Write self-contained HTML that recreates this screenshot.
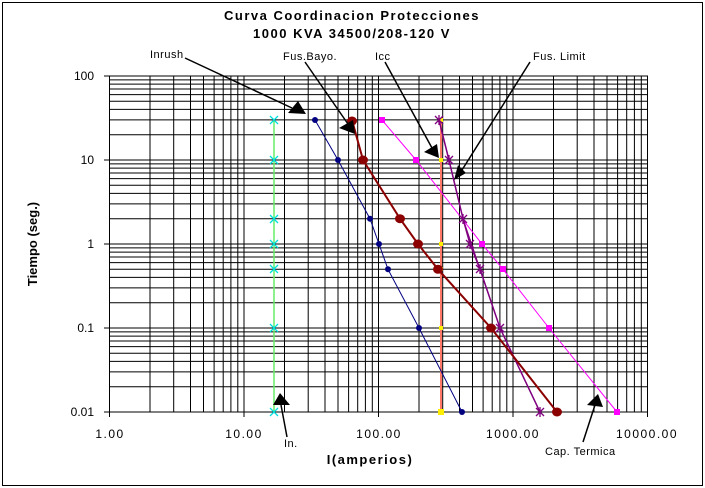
<!DOCTYPE html>
<html><head><meta charset="utf-8"><style>
body{margin:0;background:#fff}
svg{display:block;font-family:"Liberation Sans",Arial,sans-serif}
</style></head><body>
<svg width="705" height="488" viewBox="0 0 705 488">
<rect x="2.5" y="2.5" width="700" height="483" fill="none" stroke="#000" stroke-width="1"/>
<text x="352" y="20" font-size="13" font-weight="bold" text-anchor="middle" letter-spacing="1.5">Curva Coordinacion Protecciones</text>
<text x="352" y="38" font-size="13" font-weight="bold" text-anchor="middle" letter-spacing="1.5">1000 KVA 34500/208-120 V</text>
<g stroke="#000" stroke-width="1" fill="none">
<rect x="109.5" y="76" width="538" height="336"/>
<path d="M150 76V412M173.7 76V412M190.5 76V412M203.5 76V412M214.1 76V412M223.2 76V412M230.9 76V412M237.8 76V412M244 76V412M284.5 76V412M308.2 76V412M325 76V412M338 76V412M348.6 76V412M357.7 76V412M365.4 76V412M372.3 76V412M378.5 76V412M419 76V412M442.7 76V412M459.5 76V412M472.5 76V412M483.1 76V412M492.2 76V412M499.9 76V412M506.8 76V412M513 76V412M553.5 76V412M577.2 76V412M594 76V412M607 76V412M617.6 76V412M626.7 76V412M634.4 76V412M641.3 76V412"/>
<path d="M109.5 160H647.5M109.5 134.7H647.5M109.5 119.9H647.5M109.5 109.4H647.5M109.5 101.3H647.5M109.5 94.6H647.5M109.5 89H647.5M109.5 84.1H647.5M109.5 79.9H647.5
M109.5 244H647.5M109.5 218.7H647.5M109.5 203.9H647.5M109.5 193.4H647.5M109.5 185.3H647.5M109.5 178.6H647.5M109.5 173H647.5M109.5 168.1H647.5M109.5 163.9H647.5
M109.5 328H647.5M109.5 302.7H647.5M109.5 287.9H647.5M109.5 277.4H647.5M109.5 269.3H647.5M109.5 262.6H647.5M109.5 257H647.5M109.5 252.1H647.5M109.5 247.9H647.5
M109.5 386.7H647.5M109.5 371.9H647.5M109.5 361.4H647.5M109.5 353.3H647.5M109.5 346.6H647.5M109.5 341H647.5M109.5 336.1H647.5M109.5 331.9H647.5"/>
<path d="M104 76H109.5M104 160H109.5M104 244H109.5M104 328H109.5M104 412H109.5M109.5 412V417M244 412V417M378.5 412V417M513 412V417M647.5 412V417"/>
</g>
<g font-size="12" text-anchor="end">
<text x="94" y="80">100</text><text x="94" y="164">10</text><text x="94" y="248">1</text><text x="94" y="332">0.1</text><text x="94" y="416">0.01</text>
</g>
<g font-size="12" text-anchor="middle" letter-spacing="1.5">
<text x="110" y="438">1.00</text><text x="244" y="438">10.00</text><text x="379" y="438">100.00</text><text x="513" y="438">1000.00</text><text x="647" y="438">10000.00</text>
</g>
<text x="370" y="464" font-size="13" font-weight="bold" text-anchor="middle" letter-spacing="1.5">I(amperios)</text>
<text transform="translate(37,244) rotate(-90)" font-size="13" font-weight="bold" text-anchor="middle">Tiempo (seg.)</text>
<!-- In -->
<line x1="274" y1="120" x2="274" y2="412" stroke="#66ee66" stroke-width="1.5"/>
<g stroke="#00dddd" stroke-width="1.3">
<path d="M270 116l8 8M278 116l-8 8M270 156l8 8M278 156l-8 8M270 215l8 8M278 215l-8 8M270 240l8 8M278 240l-8 8M270 265l8 8M278 265l-8 8M270 324l8 8M278 324l-8 8M270 408l8 8M278 408l-8 8"/>
</g>
<!-- Icc -->
<line x1="441" y1="120" x2="441" y2="412" stroke="#ff7766" stroke-width="2"/>
<g fill="#ffee00"><rect x="439" y="118" width="4" height="4"/><rect x="439" y="158" width="4" height="4"/><rect x="439" y="242" width="4" height="4"/><rect x="439" y="267" width="4" height="4"/><rect x="439" y="326" width="4" height="4"/><rect x="438" y="409" width="6" height="6"/></g>
<!-- Inrush -->
<polyline points="315,120 338,160 370,218.7 379,244 388,269.3 419,328 462,412" fill="none" stroke="#000080" stroke-width="1"/>
<g fill="#000080"><circle cx="315" cy="120" r="3"/><circle cx="338" cy="160" r="3"/><circle cx="370" cy="218.7" r="3"/><circle cx="379" cy="244" r="3"/><circle cx="388" cy="269.3" r="3"/><circle cx="419" cy="328" r="3"/><circle cx="462" cy="412" r="3"/></g>
<!-- Cap termica -->
<polyline points="382,120 416,160 482,244 503,269.3 549,328 617,412" fill="none" stroke="#ff00ff" stroke-width="1"/>
<g fill="#ff00ff"><rect x="379" y="117" width="6" height="6"/><rect x="413" y="157" width="6" height="6"/><rect x="479" y="241" width="6" height="6"/><rect x="500" y="266" width="6" height="6"/><rect x="546" y="325" width="6" height="6"/><rect x="614" y="409" width="6" height="6"/></g>
<!-- Fus limit -->
<polyline points="439,120 449,160 463,218.7 470,244 480,269.3 500,328 540,412" fill="none" stroke="#800080" stroke-width="1.5"/>
<polyline points="439,120 463,218.7 500,328" fill="none" stroke="#800080" stroke-width="1"/>
<g stroke="#800080" stroke-width="1.3"><path d="M435 116l8 8M443 116l-8 8M439 115v10M445 156l8 8M453 156l-8 8M449 155v10M459 215l8 8M467 215l-8 8M463 214v10M466 240l8 8M474 240l-8 8M470 239v10M476 265l8 8M484 265l-8 8M480 264v10M496 324l8 8M504 324l-8 8M500 323v10M536 408l8 8M544 408l-8 8M540 407v10"/></g>
<!-- Fus bayo -->
<polyline points="352,120 363,160 400,218.7 418,244 438,269.3 491,328 557,412" fill="none" stroke="#8b0000" stroke-width="2"/>
<g fill="#8b0000"><ellipse cx="352" cy="121" rx="5" ry="4.5"/><ellipse cx="363" cy="160" rx="5" ry="4.5"/><ellipse cx="400" cy="218.7" rx="5" ry="4.5"/><ellipse cx="418" cy="244" rx="5" ry="4.5"/><ellipse cx="438" cy="269.3" rx="5" ry="4.5"/><ellipse cx="491" cy="328" rx="5" ry="4.5"/><ellipse cx="557" cy="412" rx="5" ry="4.5"/></g>
<!-- annotations -->
<g stroke="#000" stroke-width="1.5"><line x1="185" y1="58" x2="292" y2="108"/><line x1="305" y1="62" x2="348" y2="124"/><line x1="385" y1="62" x2="432" y2="148"/><line x1="530" y1="62" x2="462" y2="170"/><line x1="287" y1="437" x2="281" y2="405"/><line x1="583" y1="442" x2="595" y2="405"/></g>
<g fill="#000"><polygon points="288,113 306,114 298,101"/><polygon points="339,128 355,134 353,120"/><polygon points="424,152 439,158 437,144"/><polygon points="454,180 466,173 458,165"/><polygon points="273,405 290,405 280,393"/><polygon points="587,405 603,407 598,394"/></g>
<g font-size="11" letter-spacing="0.5">
<text x="150" y="58">Inrush</text><text x="283" y="60">Fus.Bayo.</text><text x="375" y="60">Icc</text><text x="533" y="60">Fus. Limit</text><text x="284" y="447">In.</text><text x="545" y="455">Cap. Termica</text>
</g>
</svg>
</body></html>
